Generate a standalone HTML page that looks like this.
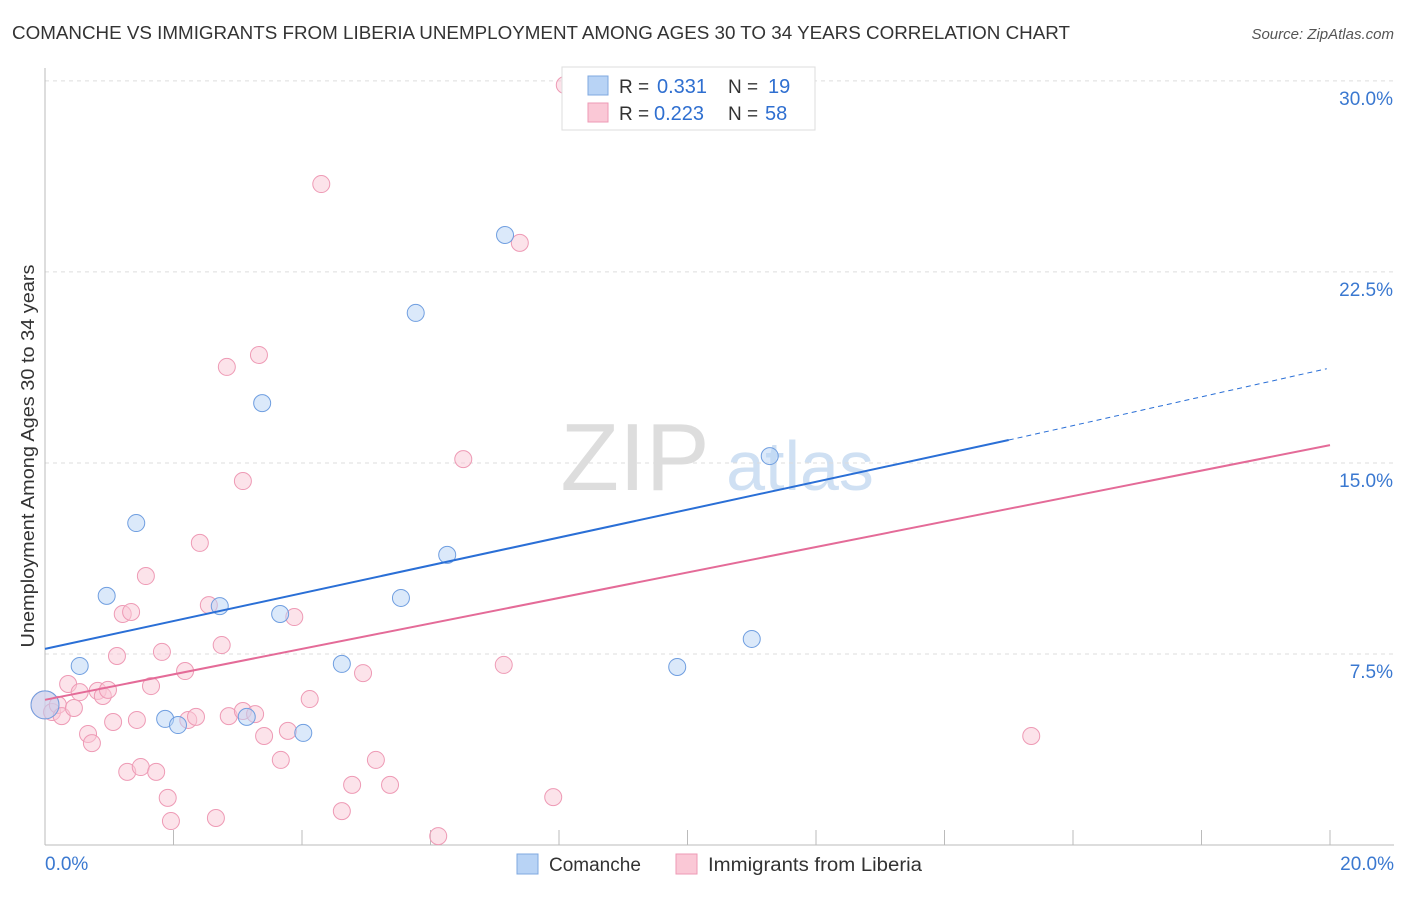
<!DOCTYPE html>
<html><head><meta charset="utf-8">
<style>
body{margin:0;background:#fff;font-family:"Liberation Sans",sans-serif;}
svg text{font-family:"Liberation Sans",sans-serif;}
</style></head>
<body>
<svg id="chart" width="1406" height="892" xmlns="http://www.w3.org/2000/svg">
<text x="12" y="39" font-size="18" fill="#333" textLength="1058" lengthAdjust="spacingAndGlyphs">COMANCHE VS IMMIGRANTS FROM LIBERIA UNEMPLOYMENT AMONG AGES 30 TO 34 YEARS CORRELATION CHART</text>
<text x="1394" y="39" font-size="15" fill="#555" text-anchor="end" font-style="italic">Source: ZipAtlas.com</text>
<text transform="translate(34,456) rotate(-90)" font-size="18" fill="#333" text-anchor="middle" textLength="383" lengthAdjust="spacingAndGlyphs">Unemployment Among Ages 30 to 34 years</text>
<g>
<text x="635" y="490" font-size="96" fill="#ddd" text-anchor="middle" font-family="Liberation Serif">ZIP</text>
<text x="800" y="490" font-size="70" fill="#cfe0f3" text-anchor="middle">atlas</text>
</g>
<g id="grid"></g>
<g id="axes"></g>
<g id="points"></g>
<g id="lines"></g>
<g>
<rect x="562" y="67" width="253" height="63" fill="#fff" stroke="#ddd"/>
<rect x="588" y="76" width="20" height="19" fill="#b8d3f5" stroke="#7fa8e0"/>
<text x="619" y="93" font-size="19" fill="#333">R =</text>
<text x="657" y="93" font-size="20" fill="#2f6fd0">0.331</text>
<text x="728" y="93" font-size="19" fill="#333">N =</text>
<text x="768" y="93" font-size="20" fill="#2f6fd0">19</text>
<rect x="588" y="103" width="20" height="19" fill="#fac8d6" stroke="#ee9ab5"/>
<text x="619" y="120" font-size="19" fill="#333">R =</text>
<text x="654" y="120" font-size="20" fill="#2f6fd0">0.223</text>
<text x="728" y="120" font-size="19" fill="#333">N =</text>
<text x="765" y="120" font-size="20" fill="#2f6fd0">58</text>
</g>
<g>
<rect x="517" y="854" width="21" height="20" fill="#b8d3f5" stroke="#7fa8e0"/>
<text x="549" y="871" font-size="19" fill="#333">Comanche</text>
<rect x="676" y="854" width="21" height="20" fill="#fac8d6" stroke="#ee9ab5"/>
<text x="708" y="871" font-size="19" fill="#333" textLength="214" lengthAdjust="spacingAndGlyphs">Immigrants from Liberia</text>
</g>
</svg>
<script>
const yTicks=[7.5,15,22.5,30];
const yTickLabels=["7.5%","15.0%","22.5%","30.0%"];
const xTickLabels=["0.0%","20.0%"];
const blueX=[0,0.54,0.96,1.42,1.87,2.07,2.72,3.14,3.38,3.66,4.02,4.62,5.54,5.77,6.26,7.16,9.84,11.0,11.28];
const blueY=[5.5,7.03,9.78,12.64,4.95,4.71,9.38,5.03,17.35,9.07,4.40,7.11,9.70,20.89,11.39,23.95,6.99,8.09,15.27];
const pinkX=[0,.11,.2,.26,.36,.45,.54,.67,.73,.82,.9,.98,1.06,1.12,1.21,1.28,1.34,1.43,1.49,1.57,1.65,1.73,1.82,1.91,1.96,2.18,2.23,2.35,2.41,2.55,2.66,2.75,2.83,2.86,3.08,3.08,3.27,3.33,3.41,3.67,3.78,3.88,4.12,4.3,4.62,4.78,4.95,5.15,5.37,6.12,6.51,7.14,7.39,7.91,8.09,15.35];
const pinkY=[5.5,5.22,5.5,5.06,6.32,5.38,6.0,4.36,4.0,6.05,5.85,6.09,4.83,7.42,9.07,2.87,9.15,4.91,3.06,10.56,6.24,2.87,7.58,1.85,.94,6.83,4.91,5.03,11.86,9.42,1.06,7.85,18.77,5.06,14.29,5.26,5.14,19.24,4.28,3.34,4.48,8.95,5.73,25.95,1.33,2.36,6.75,3.34,2.36,.35,15.15,7.07,23.64,1.88,29.84,4.28];
const blueLine=[[0,7.7],[15,15.9],[19.95,18.7]];
const pinkLine=[[0,5.7],[20,15.7]];
const X=v=>45+v*64.25, Y=v=>845-v*25.47;
const NS="http://www.w3.org/2000/svg";
function mk(tag,parent,attrs){const e=document.createElementNS(NS,tag);for(const k in attrs)e.setAttribute(k,attrs[k]);document.getElementById(parent).appendChild(e);return e;}
yTicks.forEach((t,i)=>{
 const l=mk('line','grid',{x1:45,x2:1394,y1:Y(t),y2:Y(t),stroke:'#ddd','stroke-dasharray':'4,4'});
 
 
 const tx=mk('text','grid',{x:1393,y:Y(t)+24,'font-size':19,fill:'#3a78d0','text-anchor':'end'});
 tx.textContent=yTickLabels[i];
 
 
});
let ax=mk('line','axes',{x1:45,x2:45,y1:68,y2:845,stroke:'#bbb'});


ax=mk('line','axes',{x1:45,x2:1394,y1:845,y2:845,stroke:'#bbb'});


for(let i=1;i<=10;i++){const t=mk('line','axes',{x1:X(i*2),x2:X(i*2),y1:830,y2:845,stroke:'#bbb'});
 
 }
[[0,'start',45],[20,'end',1394]].forEach((d,i)=>{const t=mk('text','axes',{x:d[2],y:870,'font-size':19,fill:'#3a78d0','text-anchor':d[1]});t.textContent=xTickLabels[i];
 
 });
function pts(xs,ys,fill,stroke,name){xs.forEach((x,i)=>{const c=mk('circle','points',{cx:X(x),cy:Y(ys[i]),r:i==0?14:8.5,fill:fill,'fill-opacity':0.5,stroke:stroke,'stroke-width':1});
 
 });}
pts(pinkX,pinkY,'#fac8d6','#ee9ab5','liberia-point');
pts(blueX,blueY,'#b8d3f5','#6f9ee0','comanche-point');
let l=mk('line','lines',{x1:X(blueLine[0][0]),y1:Y(blueLine[0][1]),x2:X(blueLine[1][0]),y2:Y(blueLine[1][1]),stroke:'#2a6fd6','stroke-width':2});


l=mk('line','lines',{x1:X(blueLine[1][0]),y1:Y(blueLine[1][1]),x2:X(blueLine[2][0]),y2:Y(blueLine[2][1]),stroke:'#2a6fd6','stroke-width':1,'stroke-dasharray':'5,4'});


l=mk('line','lines',{x1:X(pinkLine[0][0]),y1:Y(pinkLine[0][1]),x2:X(pinkLine[1][0]),y2:Y(pinkLine[1][1]),stroke:'#e46b98','stroke-width':2});


</script>
</body></html>
